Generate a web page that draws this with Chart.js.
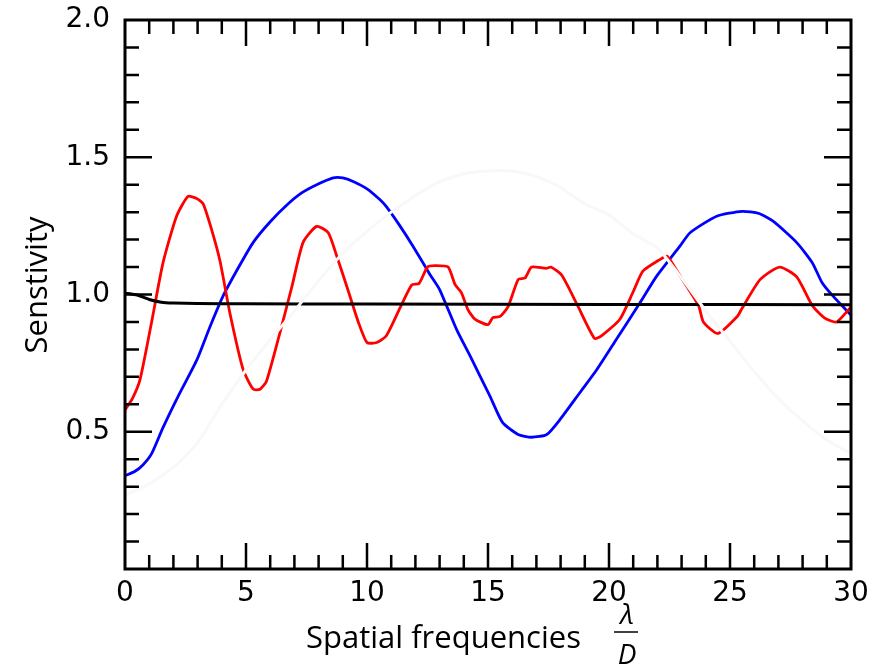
<!DOCTYPE html>
<html>
<head>
<meta charset="utf-8">
<script src="https://cdn.jsdelivr.net/npm/chart.js@4/dist/chart.umd.min.js"></script>
<style>
  body { margin: 0; background: #fff; }
  #wrap { width: 879px; height: 672px; }
</style>
</head>
<body>
<div id="wrap"><canvas id="grafico" width="879" height="672"></canvas></div>
<script>
// valores
var xTicks = [0, 5, 10, 15, 20, 25, 30]
var yTicks = [0.5, 1.0, 1.5, 2.0]

var redX = [0, 0.3, 0.62, 1.1, 1.57, 2.13, 2.6, 2.96, 3.23, 3.6, 3.93, 4.34, 4.88, 5.3, 5.58, 5.85, 6.4, 6.9, 7.36, 7.92, 8.4, 8.75, 9.2, 9.64, 10.0, 10.4, 10.8, 11.36, 11.85, 12.15, 12.5, 12.8, 13.35, 13.64, 13.9, 14.17, 14.46, 15.0, 15.2, 15.5, 15.83, 16.25, 16.53, 16.8, 17.4, 17.6, 18.05, 18.7, 19.4, 19.7, 20.45, 21.0, 21.4, 22.1, 22.4, 22.85, 23.7, 23.9, 24.5, 25.3, 25.5, 26.25, 27.05, 27.75, 28.4, 28.9, 29.4, 30]
var redY = [0.58, 0.62, 0.69, 0.90, 1.115, 1.285, 1.357, 1.35, 1.33, 1.23, 1.12, 0.93, 0.727, 0.655, 0.655, 0.685, 0.86, 1.03, 1.19, 1.248, 1.225, 1.14, 1.02, 0.90, 0.825, 0.825, 0.85, 0.95, 1.035, 1.04, 1.10, 1.105, 1.10, 1.036, 1.007, 0.945, 0.91, 0.89, 0.916, 0.92, 0.956, 1.055, 1.06, 1.10, 1.095, 1.10, 1.07, 0.96, 0.84, 0.85, 0.91, 1.01, 1.085, 1.127, 1.14, 1.08, 0.96, 0.90, 0.858, 0.92, 0.95, 1.055, 1.10, 1.065, 0.96, 0.915, 0.90, 0.955]

var blueX = [0, 0.4, 0.75, 1.1, 1.57, 2.2, 2.96, 3.5, 4.05, 4.7, 5.3, 6.0, 6.7, 7.3, 7.92, 8.6, 9.0, 9.43, 10.0, 10.54, 10.8, 11.36, 11.9, 12.6, 13.0, 13.7, 14.26, 15.08, 15.6, 16.24, 16.8, 17.43, 17.98, 18.8, 19.5, 20.3, 21.28, 21.97, 22.93, 23.35, 24.45, 25.5, 26.2, 26.78, 27.75, 28.4, 28.8, 29.26, 30]
var blueY = [0.34, 0.355, 0.38, 0.42, 0.515, 0.63, 0.76, 0.88, 0.994, 1.10, 1.19, 1.265, 1.327, 1.37, 1.40, 1.425, 1.425, 1.412, 1.385, 1.345, 1.32, 1.25, 1.176, 1.073, 1.018, 0.873, 0.776, 0.63, 0.534, 0.49, 0.48, 0.49, 0.545, 0.643, 0.727, 0.836, 0.97, 1.067, 1.176, 1.225, 1.285, 1.303, 1.295, 1.267, 1.19, 1.116, 1.044, 0.994, 0.925]

var blackX = [0, 0.5, 1, 1.5, 2, 3, 5, 10, 20, 30]
var blackY = [1.005, 0.998, 0.982, 0.972, 0.969, 0.967, 0.966, 0.965, 0.964, 0.963]

// curva quase invisivel (cinza bem claro)
var fracoX = [0, 1, 2, 3, 4, 5, 6, 7, 8, 9, 10, 11, 12, 13, 14, 15, 16, 17, 18, 19, 20, 21, 22, 23, 24, 25, 26, 27, 28, 29, 30]
var fracoY = [0.27, 0.31, 0.37, 0.46, 0.60, 0.725, 0.835, 0.94, 1.05, 1.15, 1.23, 1.30, 1.36, 1.41, 1.44, 1.45, 1.45, 1.43, 1.39, 1.33, 1.29, 1.22, 1.17, 1.06, 0.94, 0.83, 0.72, 0.62, 0.54, 0.47, 0.42]

function pontos(xs, ys){
    var out=[]
    xs.forEach((v,i)=>{ out.push({x:v, y:ys[i]}) })
    return out
}

// caixa, tracos internos e titulos
var moldura = {
    id: 'moldura',
    afterDraw(chart){
        var ctx = chart.ctx
        var a = chart.chartArea
        var sx = chart.scales.x, sy = chart.scales.y
        ctx.save()
        ctx.strokeStyle = '#000'
        ctx.lineWidth = 2.5
        ctx.beginPath()
        for(var v=1; v<30; v++){
            var px = sx.getPixelForValue(v)
            var len = v%5==0 ? 26 : 14
            ctx.moveTo(px, a.bottom); ctx.lineTo(px, a.bottom-len)
            ctx.moveTo(px, a.top); ctx.lineTo(px, a.top+len)
        }
        for(var i=1; i<20; i++){
            var py = sy.getPixelForValue(i/10)
            var len2 = i%5==0 ? 27 : 14
            ctx.moveTo(a.left, py); ctx.lineTo(a.left+len2, py)
            ctx.moveTo(a.right, py); ctx.lineTo(a.right-len2, py)
        }
        ctx.stroke()
        ctx.lineWidth = 3
        ctx.strokeRect(a.left, a.top, a.right-a.left, a.bottom-a.top)

        ctx.fillStyle = '#000'
        ctx.font = '31px "Open Sans"'
        ctx.textBaseline = 'alphabetic'
        ctx.textAlign = 'left'
        ctx.fillText('Spatial frequencies', 306, 648)
        ctx.font = 'italic 28px "Open Sans"'
        ctx.textAlign = 'center'
        ctx.fillText('\u03bb', 627, 624)
        ctx.fillText('D', 627, 664)
        ctx.lineWidth = 1.5
        ctx.beginPath(); ctx.moveTo(614, 632); ctx.lineTo(638, 632); ctx.stroke()

        ctx.translate(38, 285)
        ctx.rotate(-Math.PI/2)
        ctx.font = '31px "Open Sans"'
        ctx.textAlign = 'center'
        ctx.textBaseline = 'middle'
        ctx.fillText('Senstivity', 0, 0)
        ctx.restore()
    }
}

var grafico = document.getElementById("grafico")

new Chart(grafico, {
    type: 'line',
    data: {
        datasets: [
            { data: pontos(fracoX, fracoY), borderColor: '#f8f8f8', borderWidth: 3 },
            { data: pontos(blackX, blackY), borderColor: '#000000', borderWidth: 3 },
            { data: pontos(redX, redY), borderColor: '#ff0000', borderWidth: 2.8 },
            { data: pontos(blueX, blueY), borderColor: '#0000ff', borderWidth: 2.8 }
        ]
    },
    options: {
        responsive: false,
        animation: false,
        events: [],
        elements: { point: { radius: 0 }, line: { tension: 0.2 } },
        layout: { padding: { top: 20, right: 28, left: 0, bottom: 0 } },
        plugins: { legend: { display: false }, tooltip: { enabled: false } },
        scales: {
            x: {
                type: 'linear', min: 0, max: 30,
                grid: { display: false, drawTicks: false },
                border: { display: false },
                afterFit: s => { s.height = 103; s.paddingRight = 0; s.paddingLeft = 0 },
                afterBuildTicks: s => { s.ticks = xTicks.map(v => ({value: v})) },
                ticks: { padding: 8, color: '#000', font: { family: 'DejaVu Sans', size: 28 }, maxRotation: 0 }
            },
            y: {
                min: 0, max: 2,
                grid: { display: false, drawTicks: false },
                border: { display: false },
                afterFit: s => { s.width = 125; s.paddingTop = 0; s.paddingBottom = 0 },
                afterBuildTicks: s => { s.ticks = yTicks.map(v => ({value: v})) },
                ticks: { padding: 15, color: '#000', font: { family: 'DejaVu Sans', size: 28 },
                    callback: v => v.toFixed(1) }
            }
        }
    },
    plugins: [moldura]
})
</script>
</body>
</html>
